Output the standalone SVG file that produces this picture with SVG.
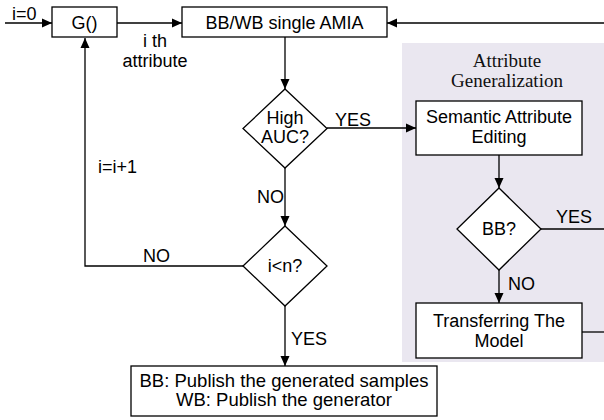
<svg xmlns="http://www.w3.org/2000/svg" width="604" height="420" viewBox="0 0 604 420">
<style>
.box{fill:#fff;stroke:#000;stroke-width:1.3}
.t{font-family:"Liberation Sans",Arial,sans-serif;font-size:18px;fill:#000}
.m{text-anchor:middle}
.ser{font-family:"Liberation Serif","Times New Roman",serif;font-size:19px;fill:#111;text-anchor:middle}
.ln{fill:none;stroke:#000;stroke-width:1.3}
</style>
<defs>
<marker id="ah" viewBox="0 0 10 10" refX="10" refY="5" markerWidth="10" markerHeight="10" markerUnits="userSpaceOnUse" orient="auto">
<path d="M0,0.5 L10,5 L0,9.5 Z" fill="#000"/>
</marker>
</defs>
<rect width="604" height="420" fill="#fff"/>
<g id="panel">
<rect x="402" y="43" width="202" height="319" fill="#eae7f0"/>
<text class="ser" x="507" y="67">Attribute</text>
<text class="ser" x="507" y="87">Generalization</text>
</g>
<g id="connectors">
<path class="ln" d="M5,23 H52" marker-end="url(#ah)"/>
<path class="ln" d="M117,23 H182" marker-end="url(#ah)"/>
<path class="ln" d="M604,23 H387" marker-end="url(#ah)"/>
<path class="ln" d="M285,37 V89" marker-end="url(#ah)"/>
<path class="ln" d="M327,128 H416" marker-end="url(#ah)"/>
<path class="ln" d="M285,168 V226" marker-end="url(#ah)"/>
<path class="ln" d="M243,266 H85 V38" marker-end="url(#ah)"/>
<path class="ln" d="M285,306 V366" marker-end="url(#ah)"/>
<path class="ln" d="M499,155 V188" marker-end="url(#ah)"/>
<path class="ln" d="M541,229 H604"/>
<path class="ln" d="M499,270 V303" marker-end="url(#ah)"/>
<path class="ln" d="M582,332 H604"/>
<text class="t" x="12" y="20">i=0</text>
<text class="t m" x="155" y="47">i th</text>
<text class="t m" x="155" y="67">attribute</text>
<text class="t" x="98" y="173">i=i+1</text>
<text class="t" x="257" y="203">NO</text>
<text class="t" x="143" y="262">NO</text>
<text class="t" x="291" y="345">YES</text>
<text class="t" x="335" y="126">YES</text>
<text class="t" x="556" y="223">YES</text>
<text class="t" x="508" y="290">NO</text>
</g>
<g id="g">
<rect class="box" x="52" y="7" width="65" height="30"/>
<text class="t m" x="84.5" y="29">G()</text>
</g>
<g id="amia">
<rect class="box" x="182" y="7" width="205" height="30"/>
<text class="t m" x="284.5" y="29">BB/WB single AMIA</text>
</g>
<g id="highauc">
<path class="box" d="M285,89 L327,128.5 L285,168 L243,128.5 Z"/>
<text class="t m" x="285" y="124">High</text>
<text class="t m" x="285" y="143">AUC?</text>
</g>
<g id="iln">
<path class="box" d="M285,226 L327,266 L285,306 L243,266 Z"/>
<text class="t m" x="285" y="272">i&lt;n?</text>
</g>
<g id="publish">
<rect class="box" x="131" y="366" width="306" height="50"/>
<text class="t m" x="284" y="387" style="font-size:18.5px">BB: Publish the generated samples</text>
<text class="t m" x="284" y="406" style="font-size:18.5px">WB: Publish the generator</text>
</g>
<g id="semantic">
<rect class="box" x="416" y="101" width="166" height="54"/>
<text class="t m" x="499" y="123">Semantic Attribute</text>
<text class="t m" x="499" y="143">Editing</text>
</g>
<g id="bb">
<path class="box" d="M499,188 L541,229 L499,270 L457,229 Z"/>
<text class="t m" x="499" y="235">BB?</text>
</g>
<g id="transfer">
<rect class="box" x="416" y="303" width="166" height="55"/>
<text class="t m" x="499" y="327">Transferring The</text>
<text class="t m" x="499" y="347">Model</text>
</g>
</svg>
